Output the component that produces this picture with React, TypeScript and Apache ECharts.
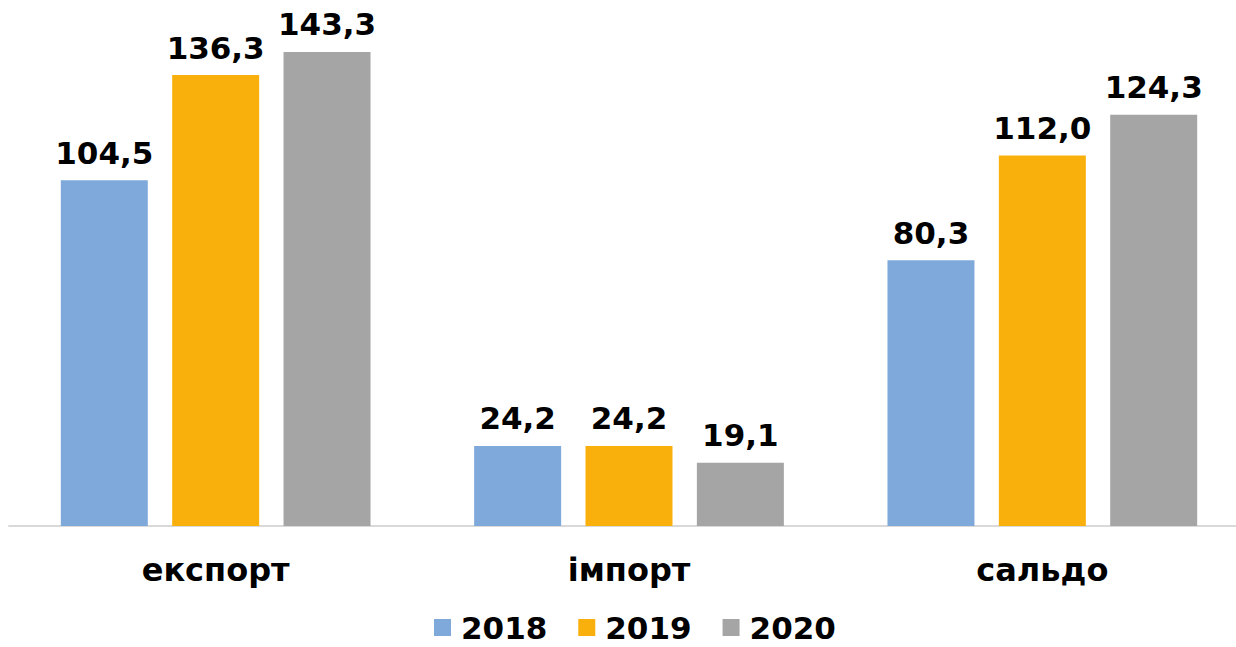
import React, { useEffect, useRef } from "react";
import * as echarts from "echarts";

const categories = ["експорт", "імпорт", "сальдо"];
const seriesNames = ["2018", "2019", "2020"];
const values2018 = [104.5, 24.2, 80.3];
const values2019 = [136.3, 24.2, 112.0];
const values2020 = [143.3, 19.1, 124.3];
const colors = ["#7FA9DB", "#F9B00C", "#A5A5A5"];

const FONT = "DejaVu Sans";

export default function App() {
  const ref = useRef<HTMLDivElement>(null);
  useEffect(() => {
    if (!ref.current) return;
    const chart = echarts.init(ref.current, null, { renderer: "svg" });
    const data = [values2018, values2019, values2020];
    chart.setOption({
      animation: false,
      legend: {
        top: 612,
        left: 434,
        padding: 0,
        icon: "rect",
        itemWidth: 17,
        itemHeight: 17,
        itemGap: 31,
        textStyle: {
          fontFamily: FONT,
          fontWeight: "bold",
          fontSize: 31,
          lineHeight: 28,
          color: "#000",
          padding: [0, 0, 0, 5],
        },
        data: seriesNames,
      },
      grid: { left: 9, top: 0, width: 1240, height: 526, containLabel: false },
      xAxis: {
        type: "category",
        data: categories,
        axisLine: { show: true, lineStyle: { color: "#D9D9D9", width: 2 } },
        axisTick: { show: false },
        axisLabel: { fontFamily: FONT, fontWeight: "bold", fontSize: 32, color: "#000", margin: 28 },
      },
      yAxis: { type: "value", min: 0, max: 159, show: false, splitLine: { show: false } },
      series: seriesNames.map((name, i) => ({
        name,
        type: "bar",
        data: data[i],
        barWidth: 87,
        barGap: "28%",
        itemStyle: { color: colors[i] },
        label: {
          show: true,
          position: "top",
          distance: 12,
          fontFamily: FONT,
          fontWeight: "bold",
          fontSize: 31,
          color: "#000",
          formatter: (p: any) => p.value.toFixed(1).replace(".", ","),
        },
      })),
    });
    return () => chart.dispose();
  }, []);
  return (
    <div style={{ position: "absolute", left: 0, top: 0, width: 1236, height: 647, overflow: "hidden" }}>
      <div ref={ref} style={{ width: 1252, height: 647 }} />
    </div>
  );
}
